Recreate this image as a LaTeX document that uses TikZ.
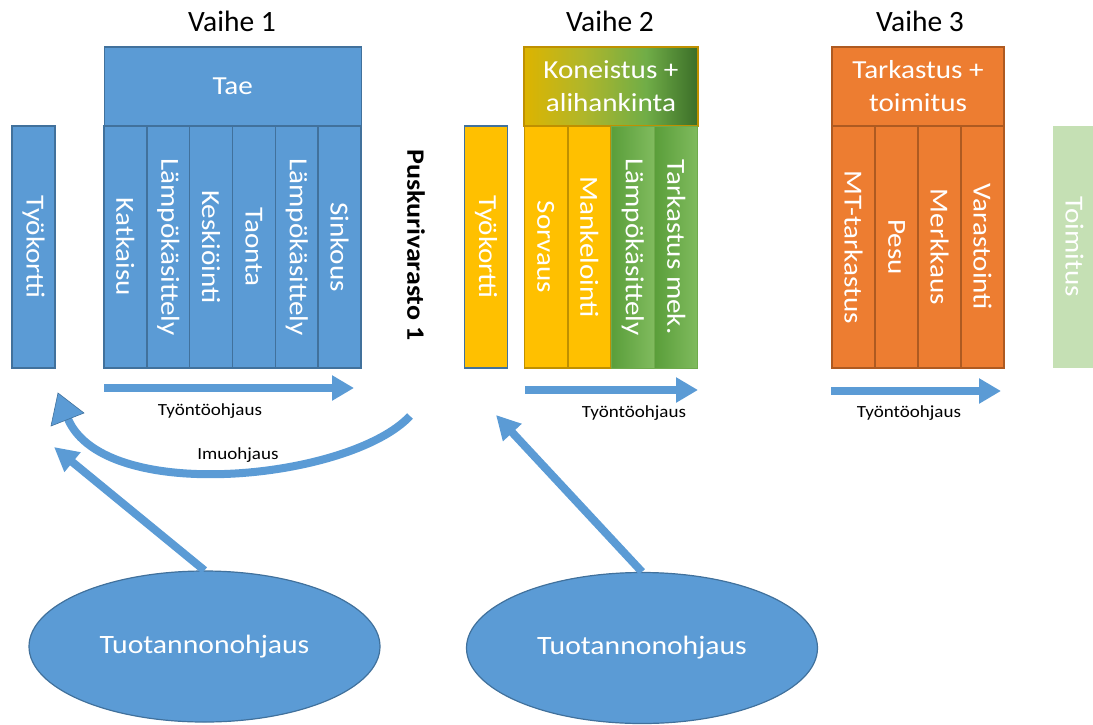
\documentclass[tikz,border=0pt]{standalone}
\usepackage{fontspec}
\setmainfont{Carlito}[FakeStretch=1.12]
\newfontfamily\plainfont{Carlito}
\usetikzlibrary{arrows.meta,shapes.geometric}

\definecolor{bfill}{HTML}{5B9BD5}
\definecolor{bline}{HTML}{41719C}
\definecolor{yfill}{HTML}{FFC000}
\definecolor{yline}{HTML}{BF9000}
\definecolor{ofill}{HTML}{ED7D31}
\definecolor{oline}{HTML}{AE5A21}
\definecolor{lgreen}{HTML}{C5E0B4}
\definecolor{gdark}{HTML}{5A9E3A}
\definecolor{glight}{HTML}{80BB5E}
\definecolor{gedge}{HTML}{6FAA4C}
\definecolor{gA}{HTML}{DDB400}
\definecolor{gM}{HTML}{B0B62A}
\definecolor{gB}{HTML}{70AD47}
\definecolor{gC}{HTML}{3B6E28}

% gold-to-green shading of the machining header
\pgfdeclarehorizontalshading{konshade}{100bp}{color(0bp)=(gA); color(25bp)=(gA);
  color(42bp)=(gM); color(60bp)=(gB); color(75bp)=(gC); color(100bp)=(gC)}

\newcommand\fcol{\fontsize{26}{30}\selectfont}
\newcommand\fhead{\fontsize{26}{33}\selectfont}
\newcommand\fsmall{\fontsize{17}{20}\selectfont}
\newcommand\fvaihe{\plainfont\fontsize{29.5}{32}\selectfont}
\newcommand\fell{\fontsize{26.5}{30}\selectfont}
\newcommand\fbuf{\bfseries\fontsize{25}{30}\selectfont}

\begin{document}
\begin{tikzpicture}[x=1pt,y=-1pt,
  box/.style={draw=bline, fill=bfill, line width=1.5pt, inner sep=0pt, text=white},
  col/.style={box, rotate=-90, minimum width=242pt, minimum height=43pt, font=\fcol},
  yel/.style={draw=yline, fill=yfill},
  org/.style={draw=oline, fill=ofill},
  grn/.style={draw=gedge, line width=1pt, left color=gdark, right color=glight, shading angle=90},
  head/.style={box, minimum width=257pt, minimum height=79pt, align=center, font=\fhead},
  push/.style={draw=bfill, line width=8pt, -{Triangle[length=22pt,width=24pt]}},
  diag/.style={draw=bfill, line width=8pt, -{Triangle[length=24pt,width=24pt]}},
  lbl/.style={font=\fsmall, text=black, inner sep=0pt},
  vaihe/.style={font=\fvaihe, text=black, anchor=base, inner sep=0pt},
  ell/.style={ellipse, draw=bline, fill=bfill, line width=1.2pt, minimum width=351pt,
    minimum height=151pt, inner sep=0pt, text=white, font=\fell}]
\useasboundingbox (0,0) rectangle (1093,724);

% phase titles
\node[vaihe] (v1) at (232,31) {Vaihe 1};
\node[vaihe] (v2) at (610,31) {Vaihe 2};
\node[vaihe] (v3) at (920,31) {Vaihe 3};

% phase 1: forging
\node[col] (tk1) at (33.5,247) {Työkortti};
\node[head] (tae) at (232.75,86.5) {Tae};
\node[col] (c11) at (125.4,247) {Katkaisu};
\node[col] (c12) at (168.25,247) {Lämpökäsittely};
\node[col] (c13) at (211.1,247) {Keskiöinti};
\node[col] (c14) at (253.9,247) {Taonta};
\node[col] (c15) at (296.75,247) {Lämpökäsittely};
\node[col] (c16) at (339.6,247) {Sinkous};

% buffer stock
\node[rotate=-90, font=\fbuf, inner sep=0pt] (pusk) at (416,245) {Puskurivarasto 1};

% phase 2: machining and subcontracting
\node[col, fill=yfill] (tk2) at (486,247) {Työkortti};
\node[head, draw=yline, minimum width=174pt, shading=konshade] (kon) at (611,86.5) {Koneistus +\\alihankinta};
\node[col, yel] (c21) at (545.75,247) {Sorvaus};
\node[col, yel] (c22) at (589.25,247) {Mankelointi};
\node[col, grn] (c23) at (632.75,247) {Lämpökäsittely};
\node[col, grn] (c24) at (676.25,247) {Tarkastus mek.};

% phase 3: inspection and delivery
\node[head, org, minimum width=172pt] (tar) at (918,86.5) {Tarkastus +\\toimitus};
\node[col, org] (c31) at (853.5,247) {MT-tarkastus};
\node[col, org] (c32) at (896.5,247) {Pesu};
\node[col, org] (c33) at (939.5,247) {Merkkaus};
\node[col, org] (c34) at (982.5,247) {Varastointi};
\node[col, draw=none, fill=lgreen] (toim) at (1074.5,247) {Toimitus};

% push control arrows
\coordinate (p1a) at (104,388);  \coordinate (p1b) at (354,388);
\coordinate (p2a) at (525,390);  \coordinate (p2b) at (698,390);
\coordinate (p3a) at (831,391);  \coordinate (p3b) at (1001,391);
\draw[push] (p1a) -- (p1b);
\draw[push] (p2a) -- (p2b);
\draw[push] (p3a) -- (p3b);
\node[lbl] (l1) at (210,411) {Työntöohjaus};
\node[lbl] (l2) at (634,413) {Työntöohjaus};
\node[lbl] (l3) at (909,413) {Työntöohjaus};

% pull control: curved arrow back to the first work card
\coordinate (imuA) at (410,416);
\coordinate (imuB) at (68,419);
\draw[bfill, line width=8pt] (imuA) .. controls (350,480) and (105,505) .. (imuB);
\filldraw[fill=bfill, draw=bline, line width=0.6pt] (58,393) -- (84,413) -- (51,426) -- cycle;
\node[lbl] (l4) at (238,455) {Imuohjaus};

% production control
\node[ell] (e1) at (204.5,646.5) {Tuotannonohjaus};
\node[ell] (e2) at (642,648) {Tuotannonohjaus};
\coordinate (t1) at (54,447);
\coordinate (t2) at (496,415);
\draw[diag] (e1.north) -- (t1);
\draw[diag] (e2.north) -- (t2);
\end{tikzpicture}
\end{document}
